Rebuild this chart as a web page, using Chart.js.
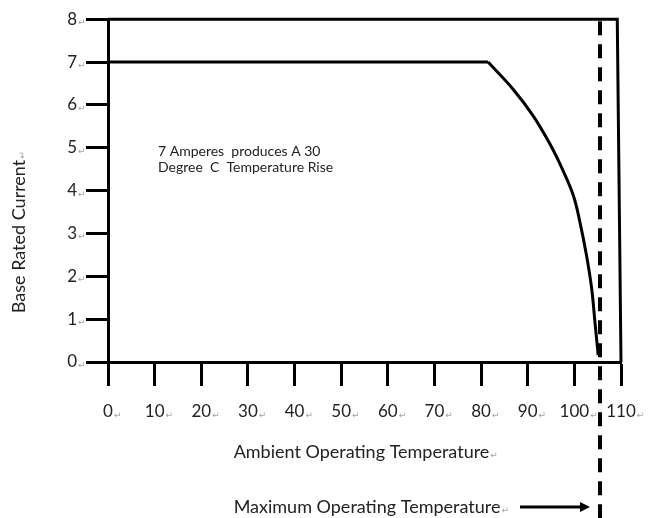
<!DOCTYPE html>
<html>
<head>
<meta charset="utf-8">
<script src="https://cdn.jsdelivr.net/npm/chart.js@4.4.0/dist/chart.umd.min.js"></script>
<style>
html, body { margin: 0; padding: 0; background: #fff; }
#wrap { width: 654px; height: 518px; }
</style>
</head>
<body>
<div id="wrap"><canvas id="chart" width="654" height="518"></canvas></div>
<script>
// tick values
var tempTicks = [0, 10, 20, 30, 40, 50, 60, 70, 80, 90, 100, 110];
var currentTicks = [0, 1, 2, 3, 4, 5, 6, 7, 8];

// rated current, flat part
var ratedTemp = [0, 81.5];
var ratedAmps = [7, 7];

// derating curve
var deratingTemp = [81.5, 86.9, 91.2, 94.8, 97.6, 99.8, 101.2, 102.6, 103.7, 104.4, 105.1];
var deratingAmps = [7, 6.36, 5.74, 5.08, 4.46, 3.88, 3.26, 2.49, 1.72, 0.95, 0.16];

// box lines (top and right side)
var frameTemp = [0, 109.2, 110];
var frameAmps = [8, 8, 0];

var maxTemp = 105.4;

var noteLines = ['7 Amperes  produces A 30', 'Degree  C  Temperature Rise'];
var xTitle = 'Ambient Operating Temperature';
var yTitle = 'Base Rated Current';
var maxLabel = 'Maximum Operating Temperature';

var textColor = '#222';
var tickFont = { family: 'Lato', size: 17 };

function pts(xs, ys) {
    return xs.map(function(x, i) { return { x: x, y: ys[i] }; });
}

function mark(ctx, x, y) {
    ctx.save();
    ctx.font = '9px "DejaVu Sans"';
    ctx.fillStyle = '#a3a3a3';
    ctx.textAlign = 'left';
    ctx.textBaseline = 'alphabetic';
    ctx.fillText('\u21b5', x, y);
    ctx.restore();
}

var extras = {
    id: 'extras',
    afterDraw: function(chart) {
        var ctx = chart.ctx,
            xs = chart.scales.x,
            ys = chart.scales.y,
            area = chart.chartArea;

        // marks after tick labels
        ctx.save();
        ctx.font = '17px Lato';
        var yRight = ys.right - 22 - 9;
        currentTicks.forEach(function(v) {
            mark(ctx, yRight + 1, ys.getPixelForValue(v) + 6);
        });
        tempTicks.forEach(function(v) {
            var w = ctx.measureText(String(v)).width;
            mark(ctx, xs.getPixelForValue(v) + w / 2 + 1, xs.top + 56);
        });
        ctx.restore();

        // dashed max temperature line
        var dx = Math.round(xs.getPixelForValue(maxTemp));
        ctx.save();
        ctx.strokeStyle = '#000';
        ctx.lineWidth = 4;
        ctx.setLineDash([14, 9]);
        ctx.beginPath();
        ctx.moveTo(dx, area.top + 2);
        ctx.lineTo(dx, chart.height);
        ctx.stroke();
        ctx.restore();

        // texts
        ctx.save();
        ctx.fillStyle = textColor;
        ctx.textAlign = 'left';
        ctx.textBaseline = 'alphabetic';

        ctx.font = '14px Lato';
        ctx.fillText(noteLines[0], area.left + 50, area.top + 137);
        ctx.fillText(noteLines[1], area.left + 50, area.top + 153);

        ctx.font = '18px Lato';
        var tw = ctx.measureText(xTitle).width;
        var tx = (area.left + area.right) / 2 - tw / 2 - 3;
        ctx.fillText(xTitle, tx, xs.top + 96);
        mark(ctx, tx + tw + 1, xs.top + 96);

        var mw = ctx.measureText(maxLabel).width;
        ctx.fillText(maxLabel, tx, xs.top + 151);
        mark(ctx, tx + mw + 1, xs.top + 151);

        // arrow
        var ay = xs.top + 145;
        ctx.strokeStyle = '#000';
        ctx.lineWidth = 3;
        ctx.beginPath();
        ctx.moveTo(dx - 80, ay);
        ctx.lineTo(dx - 18, ay);
        ctx.stroke();
        ctx.fillStyle = '#000';
        ctx.beginPath();
        ctx.moveTo(dx - 10, ay);
        ctx.lineTo(dx - 20, ay - 5);
        ctx.lineTo(dx - 20, ay + 5);
        ctx.closePath();
        ctx.fill();

        // y title
        ctx.fillStyle = textColor;
        ctx.font = '18px Lato';
        ctx.translate(25, area.top + 294);
        ctx.rotate(-Math.PI / 2);
        ctx.fillText(yTitle, 0, 0);
        mark(ctx, ctx.measureText(yTitle).width + 1, 0);
        ctx.restore();
    }
};

var lineStyle = {
    borderColor: '#000',
    borderWidth: 3,
    pointRadius: 0,
    fill: false
};

new Chart(document.getElementById('chart').getContext('2d'), {
    type: 'line',
    data: {
        datasets: [
            Object.assign({ label: 'Rated', data: pts(ratedTemp, ratedAmps) }, lineStyle),
            Object.assign({ label: 'Derating', data: pts(deratingTemp, deratingAmps), tension: 0.4 }, lineStyle),
            Object.assign({ label: 'Frame', data: pts(frameTemp, frameAmps), clip: false, borderJoinStyle: 'miter' }, lineStyle)
        ]
    },
    options: {
        responsive: false,
        animation: false,
        devicePixelRatio: 1,
        layout: { padding: { top: 18, right: 33, left: 0, bottom: 0 } },
        plugins: {
            legend: { display: false },
            tooltip: { enabled: false }
        },
        scales: {
            x: {
                type: 'linear',
                min: 0,
                max: 110,
                afterBuildTicks: function(s) { s.ticks = tempTicks.map(function(v) { return { value: v }; }); },
                afterFit: function(s) { s.height = 156; },
                border: { color: '#000', width: 3 },
                grid: { drawOnChartArea: false, tickLength: 24, tickColor: '#000', tickWidth: 3 },
                ticks: { font: tickFont, color: textColor, padding: 15, maxRotation: 0 }
            },
            y: {
                min: 0,
                max: 8,
                afterBuildTicks: function(s) { s.ticks = currentTicks.map(function(v) { return { value: v }; }); },
                afterFit: function(s) { s.width = 108; },
                border: { color: '#000', width: 3 },
                grid: { drawOnChartArea: false, tickLength: 22, tickColor: '#000', tickWidth: 3 },
                ticks: { font: tickFont, color: textColor, padding: 9 }
            }
        }
    },
    plugins: [extras]
});
</script>
</body>
</html>
